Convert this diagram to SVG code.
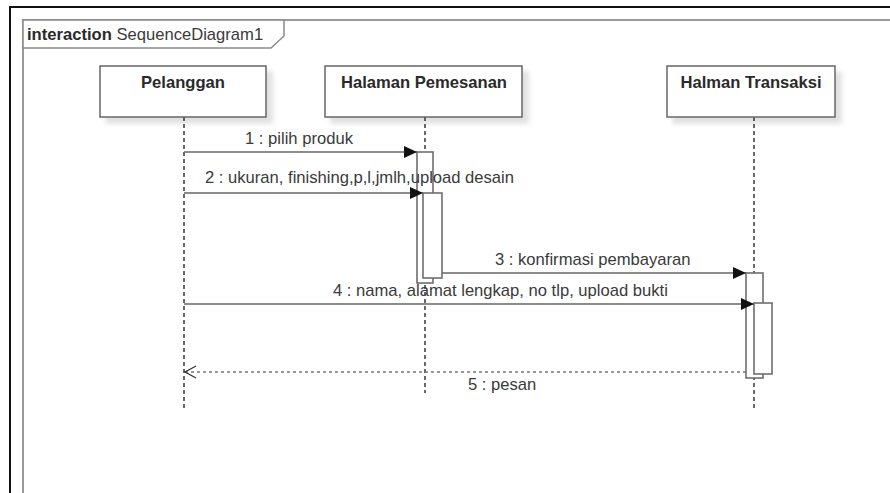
<svg xmlns="http://www.w3.org/2000/svg" width="890" height="493" viewBox="0 0 890 493">
  <style>
    .txt { font-family: "Liberation Sans", Arial, sans-serif; font-size: 16.6px; fill: #3a3a3a; }
    .bold { font-weight: bold; fill: #2a2a2a; }
    .head { fill: #ffffff; stroke: #666666; stroke-width: 1.5; }
    .life { stroke: #1a1a1a; stroke-width: 1.3; stroke-dasharray: 4 3; fill: none; }
    .act { fill: #ffffff; stroke: #6e6e6e; stroke-width: 1.6; }
    .msg { stroke: #666666; stroke-width: 1.6; fill: none; }
    .ret { stroke: #777777; stroke-width: 1.4; stroke-dasharray: 3 3; fill: none; }
  </style>
  <defs>
    <filter id="shadow" x="-10%" y="-20%" width="130%" height="150%">
      <feDropShadow dx="6" dy="6" stdDeviation="2.5" flood-color="#000000" flood-opacity="0.12"/>
    </filter>
    <marker id="filled" markerWidth="14" markerHeight="12" refX="13" refY="6" orient="auto" markerUnits="userSpaceOnUse">
      <path d="M0,0 L13,6 L0,12 Z" fill="#111111"/>
    </marker>
    <marker id="open" markerWidth="14" markerHeight="14" refX="12" refY="7" orient="auto" markerUnits="userSpaceOnUse">
      <path d="M1,1 L12,7 L1,13" fill="none" stroke="#333333" stroke-width="1.3"/>
    </marker>
  </defs>

  <rect width="890" height="493" fill="#ffffff"/>

  <!-- outer border -->
  <rect x="10" y="7" width="900" height="500" fill="none" stroke="#111111" stroke-width="2"/>

  <!-- interaction frame -->
  <g id="frame">
    <rect x="23" y="20" width="890" height="490" fill="none" stroke="#9a9a9a" stroke-width="2"/>
    <polygon points="23,20 284,20 284,36 271,48 23,48" fill="#ffffff" stroke="#8a8a8a" stroke-width="1.5"/>
    <text x="27" y="40" class="txt"><tspan class="bold">interaction</tspan> SequenceDiagram1</text>
  </g>

  <!-- lifelines -->
  <g id="pelanggan">
    <line x1="184" y1="117" x2="184" y2="408" class="life"/>
    <rect x="100" y="66" width="166" height="51" class="head" filter="url(#shadow)"/>
    <text x="183" y="88" class="txt bold" text-anchor="middle">Pelanggan</text>
  </g>

  <g id="halaman-pemesanan">
    <line x1="425" y1="117" x2="425" y2="393" class="life"/>
    <rect x="325" y="66" width="197" height="51" class="head" filter="url(#shadow)"/>
    <text x="424" y="88" class="txt bold" text-anchor="middle">Halaman Pemesanan</text>
    <rect x="417" y="152" width="16" height="131" class="act"/>
    <rect x="423" y="193" width="19" height="85" class="act"/>
  </g>

  <g id="halman-transaksi">
    <line x1="754" y1="117" x2="754" y2="408" class="life"/>
    <rect x="667" y="66" width="168" height="51" class="head" filter="url(#shadow)"/>
    <text x="751" y="88" class="txt bold" text-anchor="middle">Halman Transaksi</text>
    <rect x="746" y="273" width="17" height="105" class="act"/>
    <rect x="754" y="303" width="18" height="71" class="act"/>
  </g>

  <!-- messages -->
  <g id="connectors">
    <line x1="184" y1="152" x2="417" y2="152" class="msg" marker-end="url(#filled)"/>
    <text x="245" y="144" class="txt">1 : pilih produk</text>

    <line x1="184" y1="193" x2="423" y2="193" class="msg" marker-end="url(#filled)"/>
    <text x="205" y="183" class="txt">2 : ukuran, finishing,p,l,jmlh,upload desain</text>

    <line x1="442" y1="273" x2="746" y2="273" class="msg" marker-end="url(#filled)"/>
    <text x="495" y="265" class="txt">3 : konfirmasi pembayaran</text>

    <line x1="184" y1="304" x2="754" y2="304" class="msg" marker-end="url(#filled)"/>
    <text x="333" y="296" class="txt">4 : nama, alamat lengkap, no tlp, upload bukti</text>

    <line x1="746" y1="372" x2="185" y2="372" class="ret" marker-end="url(#open)"/>
    <text x="468" y="390" class="txt">5 : pesan</text>
  </g>
</svg>
